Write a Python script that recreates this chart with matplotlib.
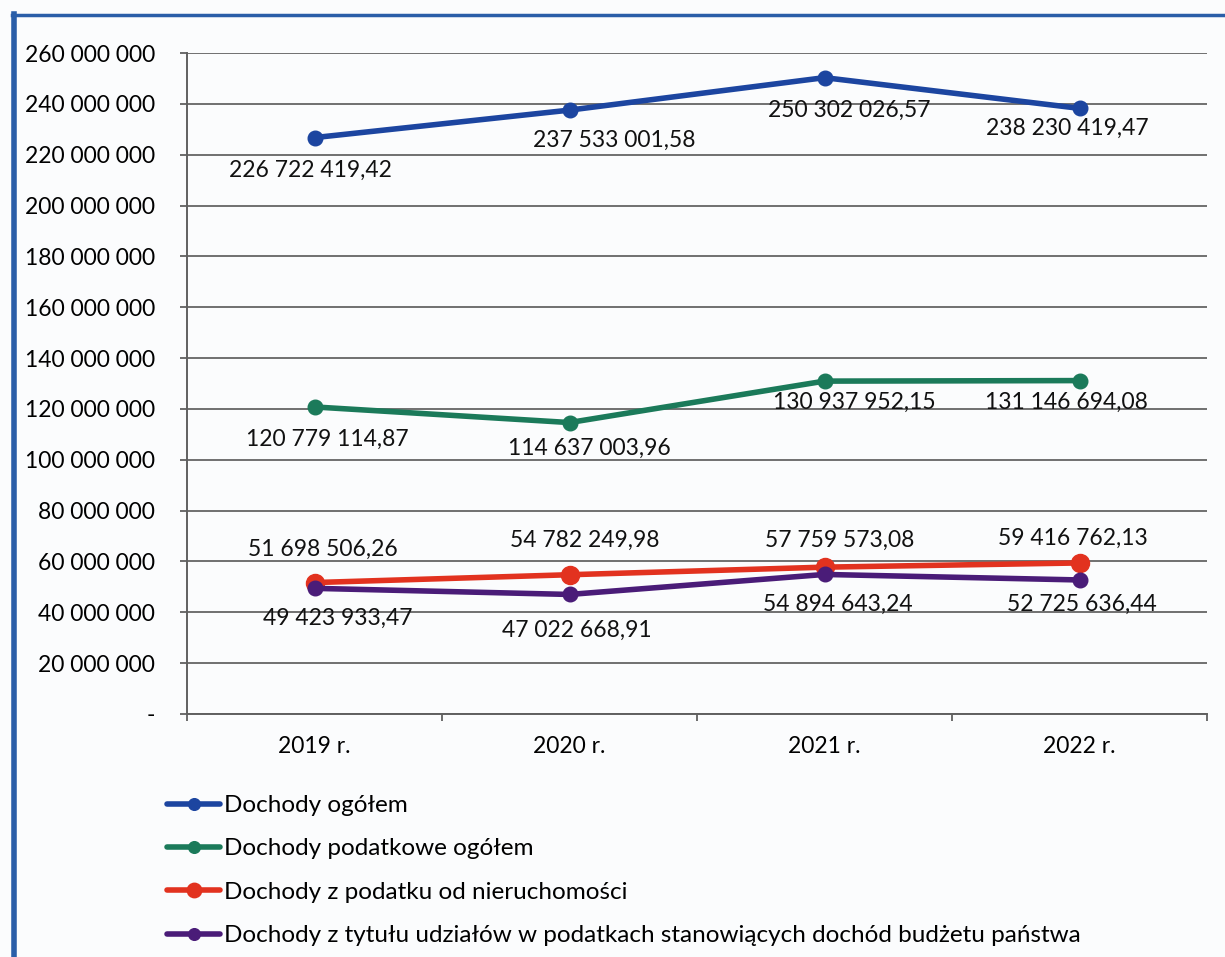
import matplotlib
matplotlib.use("Agg")
import matplotlib.pyplot as plt
from matplotlib.lines import Line2D
from matplotlib.ticker import FuncFormatter, MultipleLocator, FixedLocator

plt.rcParams['font.family'] = ['Lato', 'DejaVu Sans']

years = ["2019 r.", "2020 r.", "2021 r.", "2022 r."]
dochody_ogolem = [226722419.42, 237533001.58, 250302026.57, 238230419.47]
dochody_podatkowe = [120779114.87, 114637003.96, 130937952.15, 131146694.08]
podatek_nieruchomosci = [51698506.26, 54782249.98, 57759573.08, 59416762.13]
udzialy_podatki = [49423933.47, 47022668.91, 54894643.24, 52725636.44]
series_names = [
    "Dochody ogółem",
    "Dochody podatkowe ogółem",
    "Dochody z podatku od nieruchomości",
    "Dochody z tytułu udziałów w podatkach stanowiących dochód budżetu państwa",
]

colors = ["#1c45a0", "#1b7a5a", "#e2321f", "#4a1c78"]
marker_sizes = [10.5, 10.5, 13, 10.5]
# label offsets in pixels (dx right, dy down) relative to each point
offsets = [
    [(-4, 33), (45, 30), (25, 33), (-12, 20)],
    [(13, 32), (20, 26), (30, 21), (-13, 22)],
    [(8, -33), (15, -34), (15, -27), (-7, -25)],
    [(23, 30), (7, 36), (13, 30), (2, 24)],
]

W, H = 1225, 957
FS = 16.5
FS_LEG = 17.5
fig = plt.figure(figsize=(W / 100, H / 100), dpi=100)
fig.patch.set_facecolor("#fbfcfd")

ax = fig.add_axes([187 / W, 1 - 714 / H, (1207 - 187) / W, (714 - 53) / H])
ax.set_facecolor("none")

all_series = [dochody_ogolem, dochody_podatkowe, podatek_nieruchomosci, udzialy_podatki]
x = list(range(len(years)))

def fmt_num(v):
    s = f"{v:,.2f}"
    s = s.replace(",", " ").replace(".", ",")
    return s

handles = []
for i, (vals, name) in enumerate(zip(all_series, series_names)):
    h, = ax.plot(x, vals, color=colors[i], lw=4, marker="o", ms=marker_sizes[i],
                 solid_capstyle="round", label=name, zorder=3)
    handles.append(h)
    for j, v in enumerate(vals):
        dx, dy = offsets[i][j]
        ax.annotate(fmt_num(v), (x[j], v), xytext=(dx * 0.72, -dy * 0.72),
                    textcoords="offset points", ha="center", va="center",
                    fontsize=FS, color="#111111", zorder=4)

ax.set_xlim(-0.5, 3.5)
ax.set_ylim(0, 260000000)
ax.yaxis.set_major_locator(MultipleLocator(20000000))

def yfmt(v, pos):
    if abs(v) < 1:
        return "-"
    return f"{int(round(v)):,}".replace(",", " ")

ax.yaxis.set_major_formatter(FuncFormatter(yfmt))
ax.grid(axis="y", color="#707070", lw=1.4)
ax.set_axisbelow(True)

ax.set_xticks(x)
ax.set_xticklabels(years)
ax.xaxis.set_minor_locator(FixedLocator([-0.5, 0.5, 1.5, 2.5, 3.5]))
ax.tick_params(axis="x", which="major", length=0, pad=16, labelsize=FS)
ax.tick_params(axis="x", which="minor", length=5, width=1.3, color="#606060", direction="out")
ax.tick_params(axis="y", length=5, width=1.3, color="#606060", labelsize=FS, pad=18)

for s in ["top", "right"]:
    ax.spines[s].set_visible(False)
for s in ["left", "bottom"]:
    ax.spines[s].set_color("#606060")
    ax.spines[s].set_linewidth(1.4)

leg = fig.legend(handles=handles, loc="upper left", bbox_to_anchor=(167 / W, 1 - 795 / H),
                 frameon=False, fontsize=FS_LEG, handlelength=2.2, handletextpad=0.16,
                 labelspacing=0.92, borderaxespad=0, borderpad=0, markerscale=0.8)

# scanned page border (blue)
fig.add_artist(Line2D([14 / W, 14 / W], [0, 1 - 14 / H], color="#2a5ea8", lw=4,
                      transform=fig.transFigure))
fig.add_artist(Line2D([12 / W, 1], [1 - 15 / H, 1 - 15 / H], color="#2a5ea8", lw=2.5,
                      transform=fig.transFigure))

fig.savefig("out.png", dpi=100, facecolor=fig.get_facecolor())
